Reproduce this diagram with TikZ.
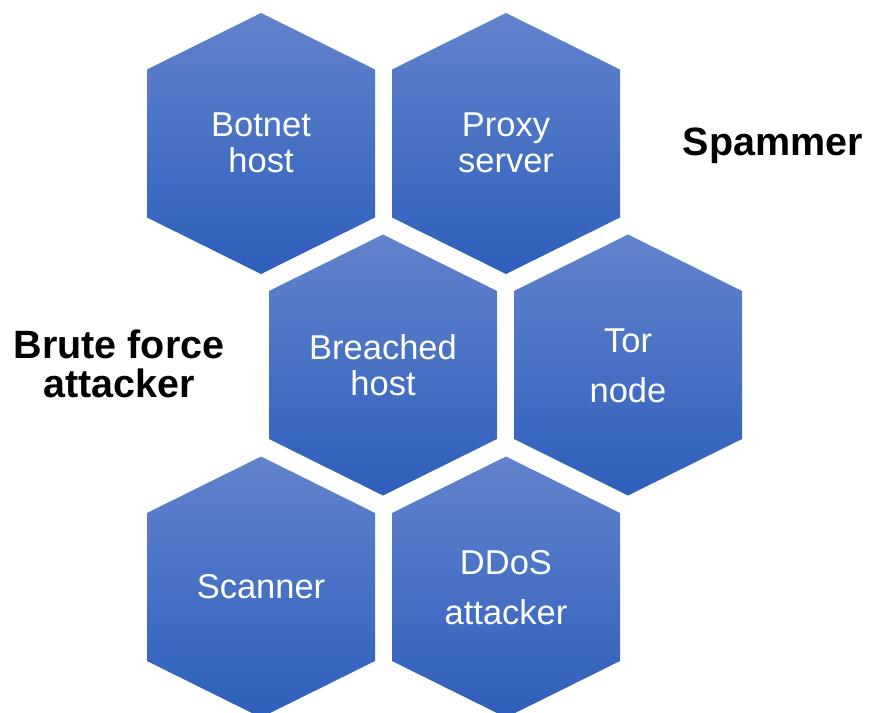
\documentclass[tikz,border=0pt]{standalone}
\usepackage{fontspec}
\setmainfont{Liberation Sans}
\definecolor{hextop}{HTML}{6283CD}
\definecolor{hexbot}{HTML}{2E5FBB}
\tikzset{
  hexlabel/.style={text=white, align=center, font=\fontsize{34.5}{36}\selectfont},
  rolelabel/.style={text=black, align=center, font=\bfseries\fontsize{39.5}{39}\selectfont}
}
\begin{document}
\begin{tikzpicture}[x=1pt, y=-1pt]
  \useasboundingbox (0,0) rectangle (869,712);
  % hexagon cells
  \foreach \cx/\cy in {261/143.5, 506/143.5, 383/365, 628/365, 261/587, 506/587} {
    \shade[top color=hextop, bottom color=hexbot]
      (\cx,\cy-130.5) -- (\cx+114,\cy-74) -- (\cx+114,\cy+74) -- (\cx,\cy+130.5)
      -- (\cx-114,\cy+74) -- (\cx-114,\cy-74) -- cycle;
  }
  \node[hexlabel] (botnet) at (261,143) {Botnet\\host};
  \node[hexlabel] (proxy) at (506,143) {Proxy\\server};
  \node[hexlabel] (breached) at (383,365) {Breached\\host};
  \node[hexlabel] (tor) at (628,366) {Tor\\[14pt]node};
  \node[hexlabel] (scanner) at (261,587) {Scanner};
  \node[hexlabel] (ddos) at (506,588) {DDoS\\[14pt]attacker};
  % roles
  \node[rolelabel] (spammer) at (773,146) {Spammer};
  \node[rolelabel] (brute) at (119,364) {Brute force\\attacker};
\end{tikzpicture}
\end{document}
